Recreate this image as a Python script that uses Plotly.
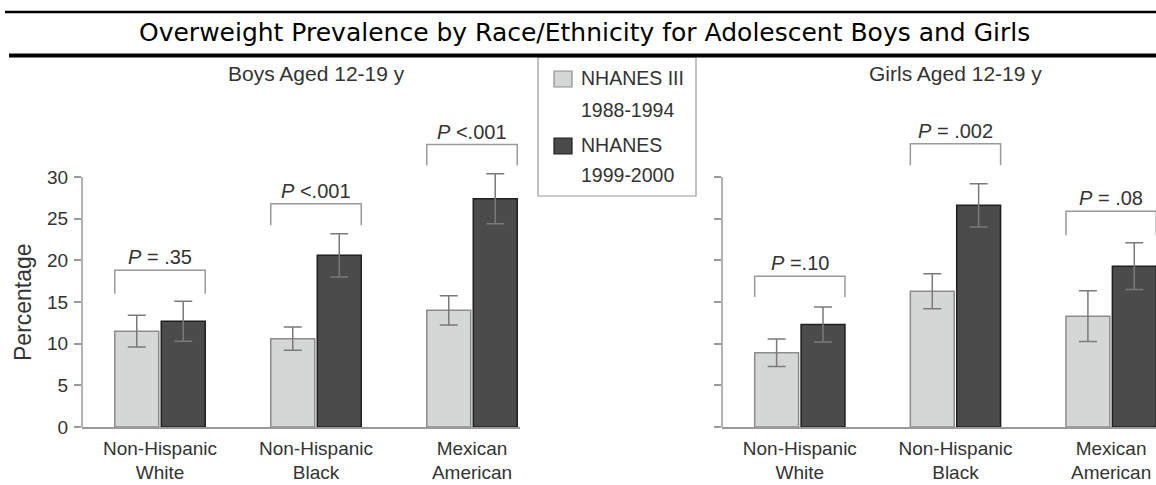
import plotly.graph_objects as go

# ---------------- data ----------------
categories = ["Non-Hispanic<br>White", "Non-Hispanic<br>Black", "Mexican<br>American"]
legend_lines = [["NHANES III", "1988-1994"], ["NHANES", "1999-2000"]]
series_names = ["NHANES III 1988-1994", "NHANES 1999-2000"]

boys_1988 = [11.5, 10.6, 14.0]
boys_1988_err = [1.9, 1.4, 1.75]
boys_1999 = [12.7, 20.6, 27.4]
boys_1999_err = [2.4, 2.6, 3.0]

girls_1988 = [8.9, 16.3, 13.3]
girls_1988_err = [1.65, 2.1, 3.05]
girls_1999 = [12.3, 26.6, 19.3]
girls_1999_err = [2.1, 2.6, 2.8]

boys_p = ["<i>P</i> = .35", "<i>P</i> <.001", "<i>P</i> <.001"]
girls_p = ["<i>P</i> =.10", "<i>P</i> = .002", "<i>P</i> = .08"]
# bracket levels (top bar, leg ends) in percentage units
boys_bracket_top = [18.8, 26.8, 33.9]
boys_bracket_leg = [16.0, 24.2, 31.4]
girls_bracket_top = [18.1, 34.0, 25.9]
girls_bracket_leg = [15.6, 31.4, 23.0]

y_ticks = [0, 5, 10, 15, 20, 25, 30]

title_text = "Overweight Prevalence by Race/Ethnicity for Adolescent Boys and Girls"
boys_title = "Boys Aged 12-19 y"
girls_title = "Girls Aged 12-19 y"
y_title = "Percentage"

# ---------------- styling / layout ----------------
W, H = 1156, 485
LIGHT = "#d4d7d5"
LIGHT_LINE = "#8c8c8c"
DARK = "#4b4b4b"
DARK_LINE = "#1f1f1f"
ERR = "#7a7a7a"
AXIS = "#9a9a9a"
TXT = "#333333"
SANS = "Liberation Sans, Arial, Helvetica, sans-serif"

BARGAP = 0.404
BARGROUPGAP = 0.054


def px(x):
    return x / W


def py(y):
    return 1 - y / H


base_px, top30_px, top_px = 427, 177, 60
ymax = 30 * (base_px - top_px) / (base_px - top30_px)

fig = go.Figure()


def add_bars(vals, errs, name, fill, line, xa, ya):
    fig.add_trace(go.Bar(
        x=categories, y=vals, name=name, xaxis=xa, yaxis=ya,
        marker=dict(color=fill, line=dict(color=line, width=1.5)),
        error_y=dict(type="data", array=errs, color=ERR, thickness=1.5, width=9),
        showlegend=False, hoverinfo="skip",
    ))


add_bars(boys_1988, boys_1988_err, series_names[0], LIGHT, LIGHT_LINE, "x", "y")
add_bars(boys_1999, boys_1999_err, series_names[1], DARK, DARK_LINE, "x", "y")
add_bars(girls_1988, girls_1988_err, series_names[0], LIGHT, LIGHT_LINE, "x2", "y2")
add_bars(girls_1999, girls_1999_err, series_names[1], DARK, DARK_LINE, "x2", "y2")

shapes = []
annotations = []

slot = (1 - BARGAP) / 2
half = slot * (1 - BARGROUPGAP / 2)

for xr, yr, tops, legs, ptxt in [("x", "y", boys_bracket_top, boys_bracket_leg, boys_p),
                                   ("x2", "y2", girls_bracket_top, girls_bracket_leg, girls_p)]:
    for i in range(len(categories)):
        x0, x1 = i - half, i + half
        path = f"M {x0},{legs[i]} L {x0},{tops[i]} L {x1},{tops[i]} L {x1},{legs[i]}"
        shapes.append(dict(type="path", path=path, xref=xr, yref=yr,
                           line=dict(color=AXIS, width=1.5)))
        annotations.append(dict(x=i, y=tops[i], xref=xr, yref=yr, text=ptxt[i],
                                showarrow=False, yanchor="bottom", yshift=0,
                                font=dict(family=SANS, size=20, color=TXT)))
    # y axis line from 0 to 30
    shapes.append(dict(type="line", xref=f"{xr} domain", yref=yr, x0=0, x1=0, y0=0, y1=30,
                       line=dict(color=AXIS, width=1.5)))

# header rules
shapes.append(dict(type="line", xref="paper", yref="paper", x0=px(5), x1=1,
                   y0=py(12), y1=py(12), line=dict(color="black", width=2.5)))
shapes.append(dict(type="line", xref="paper", yref="paper", x0=px(9), x1=1,
                   y0=py(55.5), y1=py(55.5), line=dict(color="black", width=4)))

annotations.append(dict(x=px(584), y=py(33), xref="paper", yref="paper", text=title_text,
                        showarrow=False, yanchor="middle", xanchor="center",
                        font=dict(family="DejaVu Sans, Verdana, sans-serif", size=25, color="black")))
annotations.append(dict(x=1, y=py(73), xref="x", yref="paper", text=boys_title,
                        showarrow=False, yanchor="middle",
                        font=dict(family=SANS, size=21, color=TXT)))
annotations.append(dict(x=1, y=py(73), xref="x2", yref="paper", text=girls_title,
                        showarrow=False, yanchor="middle",
                        font=dict(family=SANS, size=21, color=TXT)))
annotations.append(dict(x=px(23), y=15, xref="paper", yref="y", text=y_title,
                        showarrow=False, textangle=-90, xanchor="center", yanchor="middle",
                        font=dict(family=SANS, size=23, color=TXT)))

# legend (drawn as a boxed key)
shapes.append(dict(type="rect", xref="paper", yref="paper", x0=px(538), x1=px(696),
                   y0=py(196), y1=py(57), line=dict(color="#9a9a9a", width=1.2),
                   fillcolor="white", layer="below"))
swatches = [(LIGHT, LIGHT_LINE, 71, 87), (DARK, DARK_LINE, 138, 154)]
line_y = [[78, 110], [145, 175]]
for k, (fill, ln, y0, y1) in enumerate(swatches):
    shapes.append(dict(type="rect", xref="paper", yref="paper", x0=px(554), x1=px(572),
                       y0=py(y1), y1=py(y0), line=dict(color=ln, width=1.2), fillcolor=fill))
    for j, t in enumerate(legend_lines[k]):
        annotations.append(dict(x=px(579), y=py(line_y[k][j]), xref="paper", yref="paper",
                                text=t, showarrow=False, xanchor="left", yanchor="middle",
                                font=dict(family=SANS, size=19.5, color=TXT)))

xaxis_common = dict(showline=True, linecolor=AXIS, linewidth=1.5, ticks="",
                    showgrid=False, zeroline=False, fixedrange=True, automargin=False,
                    tickfont=dict(family=SANS, size=19, color=TXT), ticklabelstandoff=3)
yaxis_common = dict(range=[0, ymax], domain=[py(base_px), py(top_px)], tickvals=y_ticks,
                    ticks="outside", ticklen=7, tickwidth=1.5, tickcolor=AXIS, automargin=False,
                    showline=False, showgrid=False, zeroline=False, fixedrange=True,
                    tickfont=dict(family=SANS, size=19, color=TXT))

fig.update_layout(
    width=W, height=H, autosize=False,
    margin=dict(l=0, r=0, t=0, b=0, pad=0, autoexpand=False),
    paper_bgcolor="white", plot_bgcolor="white",
    barmode="group", bargap=BARGAP, bargroupgap=BARGROUPGAP,
    xaxis=dict(domain=[px(82), px(520)], range=[-0.5, 2 + (520 - 472) / 156], **xaxis_common),
    xaxis2=dict(domain=[px(722), 1], range=[-0.5, 2 + (1156 - 1111) / 156], **xaxis_common),
    yaxis=dict(anchor="x", showticklabels=True, ticklabelstandoff=2, **yaxis_common),
    yaxis2=dict(anchor="x2", showticklabels=False, **yaxis_common),
    shapes=shapes, annotations=annotations,
    showlegend=False,
)

fig.write_html("out.html", config={"displayModeBar": False},
               post_script="document.body.style.margin='0';document.body.style.overflow='hidden';")
